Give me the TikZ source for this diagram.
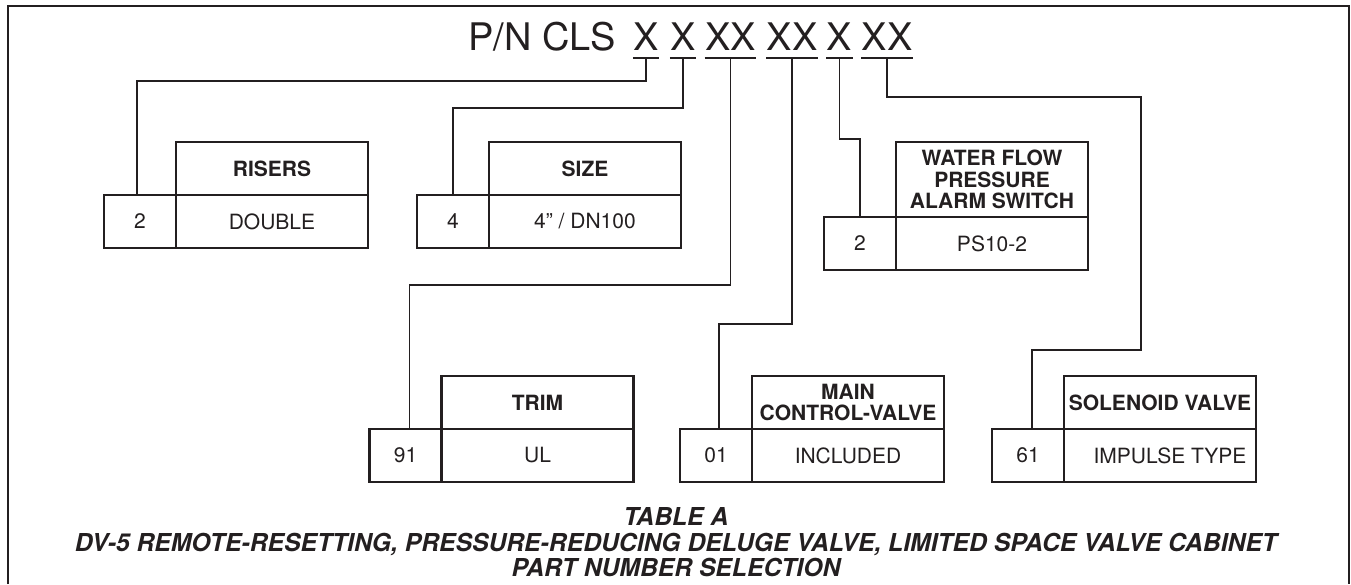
\documentclass[tikz,border=0pt]{standalone}
\usepackage{fontspec}
\setmainfont{TeX Gyre Heros}
\usetikzlibrary{positioning}
\definecolor{Ink}{RGB}{35,31,32}

\begin{document}
\begin{tikzpicture}[x=1pt,y=-1pt,
    every node/.style={text=Ink},
    code/.style={anchor=base,inner xsep=0.5pt,inner ysep=8pt,outer sep=0pt,font=\fontsize{38}{40}\selectfont},
    uline/.style={draw=Ink,line width=2.6pt},
    wire/.style={draw=Ink,line width=1.9pt},
    frame/.style={draw=Ink,line width=2.6pt},
    num/.style={draw=Ink,line width=2.1pt,outer sep=0pt,inner sep=0pt,minimum width=72pt,minimum height=53pt,font=\fontsize{21}{24}\selectfont},
    val/.style={num,minimum width=192pt},
    head/.style={val,align=center,font=\bfseries\fontsize{21}{21.5}\selectfont},
    caption/.style={anchor=base,inner sep=0pt,font=\bfseries\itshape\fontsize{24.7}{26}\selectfont}]
  \useasboundingbox (0,0) rectangle (1351,584);
  \draw[frame] (8,584)--(8,6)--(1349,6)--(1349,584);
  \node[code,anchor=base west] (pn) at (468,50) {P/N CLS};
  \node[code] (c1) at (646,50) {X};
  \node[code] (c2) at (683,50) {X};
  \node[code] (c3) at (730.5,50) {XX};
  \node[code] (c4) at (792,50) {XX};
  \node[code] (c5) at (839.5,50) {X};
  \node[code] (c6) at (887,50) {XX};
  \foreach \c in {c1,c2,c3,c4,c5,c6}
    \draw[uline] (\c.south west)--(\c.south east);
  \node[num] (rnum) at (140,221.5) {2};
  \node[val,right=0pt of rnum] (rval) {DOUBLE};
  \node[head,above=0pt of rval] (rhead) {RISERS};
  \node[num] (znum) at (453,221.5) {4};
  \node[val,right=0pt of znum] (zval) {4” / DN100};
  \node[head,above=0pt of zval] (zhead) {SIZE};
  \node[num] (wnum) at (860,243.5) {2};
  \node[val,right=0pt of wnum] (wval) {PS10-2};
  \node[head,minimum height=75pt,above=0pt of wval] (whead) {WATER FLOW\\PRESSURE\\ALARM SWITCH};
  \node[num] (tnum) at (405.5,455.5) {91};
  \node[val,right=0pt of tnum] (tval) {UL};
  \node[head,above=0pt of tval] (thead) {TRIM};
  \node[num] (mnum) at (716,455.5) {01};
  \node[val,right=0pt of mnum] (mval) {INCLUDED};
  \node[head,above=0pt of mval] (mhead) {MAIN\\CONTROL-VALVE};
  \node[num] (snum) at (1028,455.5) {61};
  \node[val,right=0pt of snum] (sval) {\hspace*{20pt}IMPULSE TYPE};
  \node[head,above=0pt of sval] (shead) {SOLENOID VALVE};
  \coordinate (sbend) at (1141,350);
  \draw[wire] (c1.south)--++(0,23) -| ([xshift=-3pt]rnum.north);
  \draw[wire] (c2.south)--++(0,50) -| (znum.north);
  \draw[wire] (c3.south)--++(0,227) -| ([xshift=4pt]tnum.north);
  \draw[wire] (c4.south)--++(0,266) -| ([xshift=3pt]mnum.north);
  \draw[wire] (c5.south)--++(0,81) -| (wnum.north);
  \draw[wire] (c6.south)--++(0,39) -| (sbend) -| ([xshift=4pt]snum.north);
  \node[caption] (cap1) at (676,525) {TABLE A};
  \node[caption] (cap2) at (676,551) {DV-5 REMOTE-RESETTING, PRESSURE-REDUCING DELUGE VALVE, LIMITED SPACE VALVE CABINET};
  \node[caption] (cap3) at (676,576) {PART NUMBER SELECTION};
\end{tikzpicture}
\end{document}
